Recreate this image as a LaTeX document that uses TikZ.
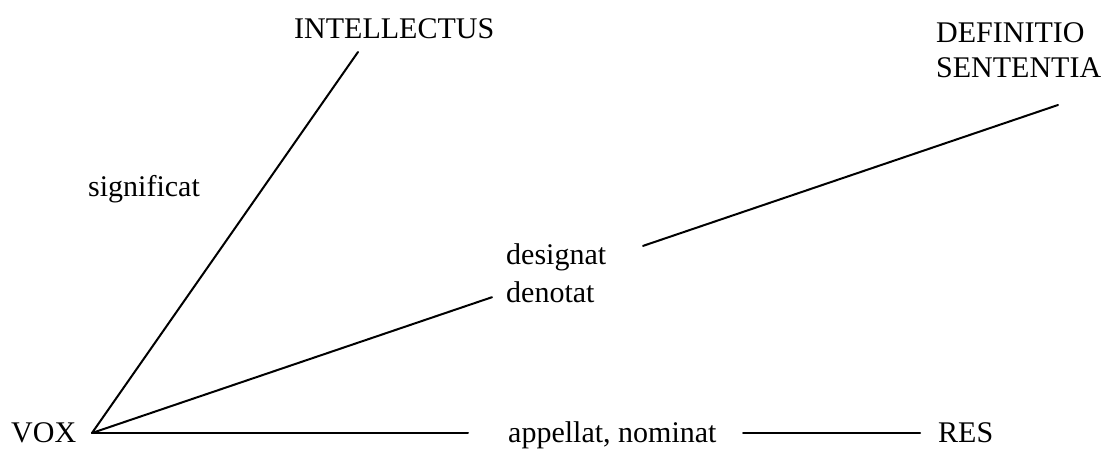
\documentclass[tikz,border=0pt]{standalone}
\usepackage{fontspec}
\setmainfont{Liberation Serif}
\begin{document}
\begin{tikzpicture}[x=1bp,y=-1bp,
  lab/.style={inner sep=0pt, anchor=base west, font=\fontsize{30bp}{37bp}\selectfont},
  ln/.style={line width=2bp, line cap=round}]
\useasboundingbox (0,0) rectangle (1104,449);
\node[lab] (vox) at (11,442) {VOX};
\node[lab] (int) at (294,39) {INTELLECTUS};
\node[lab] (sig) at (88,197) {significat};
\node[lab] (des) at (506,265) {designat};
\node[lab] (den) at (506,303) {denotat};
\node[lab] (def) at (936,43) {DEFINITIO};
\node[lab] (sen) at (936,78) {SENTENTIA};
\node[lab] (app) at (508,442) {appellat, nominat};
\node[lab] (res) at (938,442) {RES};
\coordinate (A) at (92,433);
\coordinate (I) at (358,52);
\coordinate (D1) at (492,297.2);
\coordinate (D2) at (643,245.9);
\coordinate (D3) at (1058,105);
\coordinate (H1) at (468,433);
\coordinate (H2) at (743,433);
\coordinate (H3) at (920,433);
\draw[ln] (A) -- (I);
\draw[ln] (A) -- (D1);
\draw[ln] (D2) -- (D3);
\draw[ln] (A) -- (H1);
\draw[ln] (H2) -- (H3);
\end{tikzpicture}
\end{document}
